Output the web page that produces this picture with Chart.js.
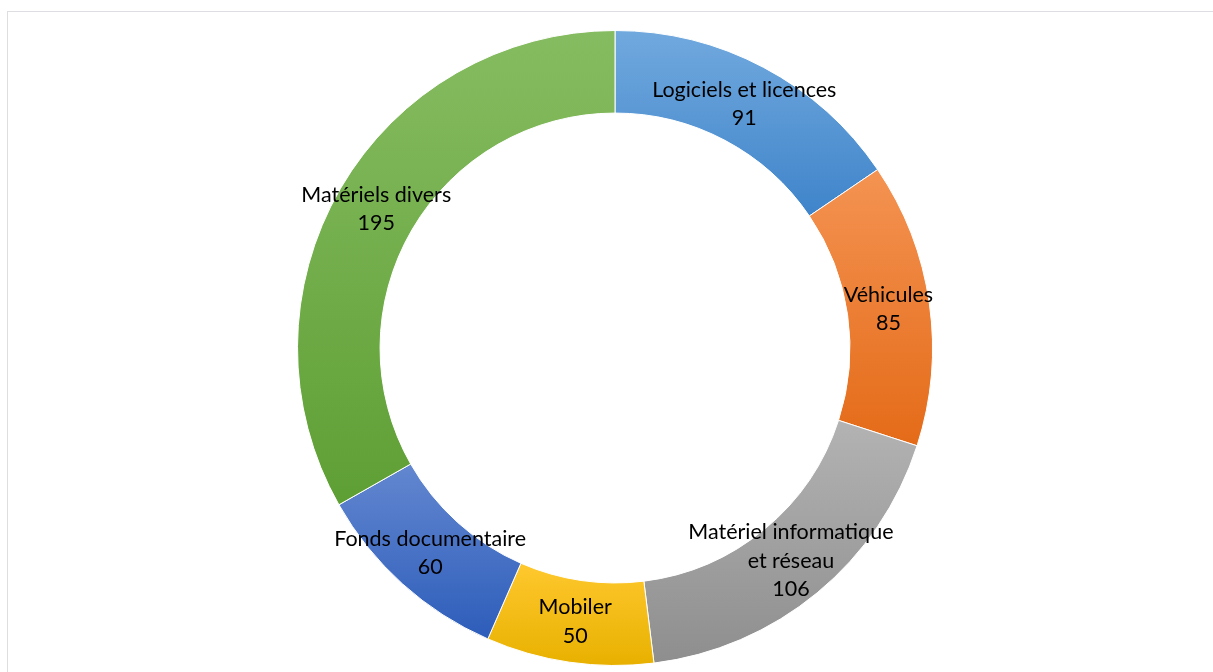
<!DOCTYPE html>
<html>
<head>
<meta charset="utf-8">
<script src="https://cdn.jsdelivr.net/npm/chart.js@4"></script>
<style>
  html, body { margin: 0; padding: 0; background: #fff; width: 1213px; height: 672px; overflow: hidden; }
  #frame { position: absolute; left: 7px; top: 11px; width: 1230px; height: 690px; border-left: 1px solid #dedee2; border-top: 1px solid #dedee2; }
  #wrap { position: absolute; left: 297px; top: 30px; width: 636px; height: 636px; }
</style>
</head>
<body>
<div id="frame"></div>
<div id="wrap"><canvas id="donut"></canvas></div>
<script>
// ========== DATA ==========
const categories = ['Logiciels et licences', 'Véhicules', 'Matériel informatique et réseau', 'Mobiler', 'Fonds documentaire', 'Matériels divers'];
const values = [91, 85, 106, 50, 60, 195];
// label lines drawn on the ring (category can wrap on two lines)
const labelLines = [['Logiciels et licences'], ['Véhicules'], ['Matériel informatique', 'et réseau'], ['Mobiler'], ['Fonds documentaire'], ['Matériels divers']];
// top / bottom colours of each slice gradient
const topColors = ['#71a9de', '#f49352', '#b3b3b3', '#ffc82e', '#6387d0', '#86bc61'];
const bottomColors = ['#3f84ca', '#e46b18', '#8e8e8e', '#e8b100', '#2d5dba', '#5e9f34'];

// vertical gradient per slice, sized to the slice's own extent
const sliceGradient = {
    id: 'sliceGradient',
    beforeDatasetsDraw(chart) {
        const meta = chart.getDatasetMeta(0);
        const ctx = chart.ctx;
        meta.data.forEach((arc, i) => {
            const p = arc.getProps(['x', 'y', 'startAngle', 'endAngle', 'innerRadius', 'outerRadius']);
            let minY = Infinity, maxY = -Infinity;
            for (let k = 0; k <= 60; k++) {
                const a = p.startAngle + (p.endAngle - p.startAngle) * k / 60;
                [p.innerRadius, p.outerRadius].forEach(r => {
                    const y = p.y + r * Math.sin(a);
                    minY = Math.min(minY, y);
                    maxY = Math.max(maxY, y);
                });
            }
            const g = ctx.createLinearGradient(0, minY, 0, maxY);
            g.addColorStop(0, topColors[i]);
            g.addColorStop(1, bottomColors[i]);
            arc.options.backgroundColor = g;
        });
    }
};

// category + value written in the middle of each slice
const sliceLabels = {
    id: 'sliceLabels',
    afterDatasetsDraw(chart) {
        const meta = chart.getDatasetMeta(0);
        const ctx = chart.ctx;
        ctx.save();
        ctx.font = '21.5px Lato, "Open Sans", sans-serif';
        ctx.fillStyle = '#000';
        ctx.textAlign = 'center';
        ctx.textBaseline = 'middle';
        const lh = 28.5;
        meta.data.forEach((arc, i) => {
            const pos = arc.tooltipPosition();
            const lines = labelLines[i].concat([String(values[i])]);
            const y0 = pos.y - (lines.length - 1) * lh / 2;
            lines.forEach((t, j) => ctx.fillText(t, pos.x, y0 + j * lh));
        });
        ctx.restore();
    }
};

new Chart(document.getElementById('donut'), {
    type: 'doughnut',
    data: {
        labels: categories,
        datasets: [{
            data: values,
            backgroundColor: topColors,
            borderColor: '#ffffff',
            borderWidth: 1
        }]
    },
    options: {
        responsive: true,
        maintainAspectRatio: false,
        animation: false,
        cutout: '74%',
        layout: { padding: 0 },
        plugins: {
            legend: { display: false },
            tooltip: { enabled: false }
        }
    },
    plugins: [sliceGradient, sliceLabels]
});
</script>
</body>
</html>
